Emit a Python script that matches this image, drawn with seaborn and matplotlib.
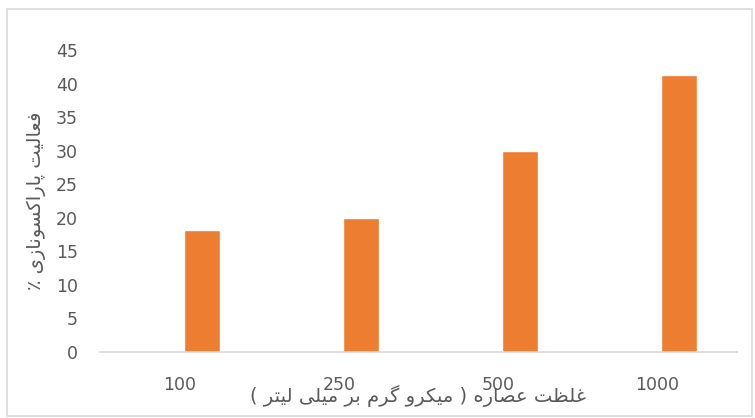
import numpy as np
import pandas as pd
import matplotlib
matplotlib.use("Agg")
import matplotlib.pyplot as plt
import seaborn as sns
from matplotlib.patches import Rectangle

# ── data ────────────────────────────────────────────────────
concentrations = ["100", "250", "500", "1000"]
activity = [18.2, 20.0, 30.0, 41.3]
y_ticks = [0, 5, 10, 15, 20, 25, 30, 35, 40, 45]
x_title = "غلظت عصاره ( میکرو گرم بر میلی لیتر )"
y_title = "فعالیت پاراکسونازی ٪"

# ── tiny Persian shaper (matplotlib has no RTL / joining) ──
# letter: (isolated, final, initial, medial); None = does not join forward
FORMS = {
    "ا": ("\uFE8D", "\uFE8E", None, None),
    "ب": ("\uFE8F", "\uFE90", "\uFE91", "\uFE92"),
    "پ": ("\uFB56", "\uFB57", "\uFB58", "\uFB59"),
    "ت": ("\uFE95", "\uFE96", "\uFE97", "\uFE98"),
    "ر": ("\uFEAD", "\uFEAE", None, None),
    "ز": ("\uFEAF", "\uFEB0", None, None),
    "س": ("\uFEB1", "\uFEB2", "\uFEB3", "\uFEB4"),
    "ص": ("\uFEB9", "\uFEBA", "\uFEBB", "\uFEBC"),
    "ظ": ("\uFEC5", "\uFEC6", "\uFEC7", "\uFEC8"),
    "ع": ("\uFEC9", "\uFECA", "\uFECB", "\uFECC"),
    "غ": ("\uFECD", "\uFECE", "\uFECF", "\uFED0"),
    "ف": ("\uFED1", "\uFED2", "\uFED3", "\uFED4"),
    "ک": ("\uFB8E", "\uFB8F", "\uFB90", "\uFB91"),
    "گ": ("\uFB92", "\uFB93", "\uFB94", "\uFB95"),
    "ل": ("\uFEDD", "\uFEDE", "\uFEDF", "\uFEE0"),
    "م": ("\uFEE1", "\uFEE2", "\uFEE3", "\uFEE4"),
    "ن": ("\uFEE5", "\uFEE6", "\uFEE7", "\uFEE8"),
    "ه": ("\uFEE9", "\uFEEA", "\uFEEB", "\uFEEC"),
    "و": ("\uFEED", "\uFEEE", None, None),
    "ی": ("\uFBFC", "\uFBFD", "\uFBFE", "\uFBFF"),
}
MIRROR = {"(": ")", ")": "("}


def rtl(text):
    out = []
    for i, ch in enumerate(text):
        if ch not in FORMS:
            out.append(ch)
            continue
        prev = text[i - 1] if i > 0 else ""
        nxt = text[i + 1] if i + 1 < len(text) else ""
        joins_prev = prev in FORMS and FORMS[prev][2] is not None
        joins_next = nxt in FORMS and FORMS[ch][2] is not None
        iso, fin, ini, med = FORMS[ch]
        if joins_prev and joins_next:
            out.append(med)
        elif joins_prev:
            out.append(fin)
        elif joins_next:
            out.append(ini)
        else:
            out.append(iso)
    return "".join(MIRROR.get(c, c) for c in reversed(out))


# ── plot ────────────────────────────────────────────────────
df = pd.DataFrame({"conc": concentrations, "activity": activity, "series": "s1"})

sns.set_style("white")
plt.rcParams["font.family"] = ["DejaVu Sans"]

fig = plt.figure(figsize=(7.55, 4.18), dpi=100)
ax = fig.add_axes([100 / 755, 1 - 352 / 418, 637 / 755, 302 / 418])

# Excel-style clustered bar with an empty first series -> bars sit right of tick
sns.barplot(data=df, x="conc", y="activity", hue="series",
            hue_order=["empty", "s1"], order=concentrations,
            palette={"empty": "#ffffff", "s1": "#ED7D31"}, saturation=1,
            dodge=True, width=0.553, gap=0.18, errorbar=None,
            legend=False, ax=ax)

ax.set_ylim(0, 45)
ax.set_yticks(y_ticks)
ax.tick_params(axis="both", length=0, labelsize=12.5, labelcolor="#595959")
ax.tick_params(axis="y", pad=16)
ax.tick_params(axis="x", pad=17)

for side in ["left", "right", "top"]:
    ax.spines[side].set_visible(False)
ax.spines["bottom"].set_color("#d9d9d9")
ax.spines["bottom"].set_linewidth(1.2)

ax.set_xlabel(rtl(x_title), fontsize=14, color="#595959")
ax.xaxis.set_label_coords(0.5, -0.146)
ax.xaxis.label.set_va("center")
ax.set_ylabel(rtl(y_title), fontsize=14, color="#595959")
ax.yaxis.set_label_coords(-0.1, 0.5)
ax.yaxis.label.set_va("center")

# outer chart-area frame
fig.patches.append(Rectangle((7 / 755, 2 / 418), 745 / 755, 407 / 418,
                             transform=fig.transFigure, fill=False,
                             edgecolor="#d9d9d9", linewidth=1.2))

fig.savefig("out.png", dpi=100)
